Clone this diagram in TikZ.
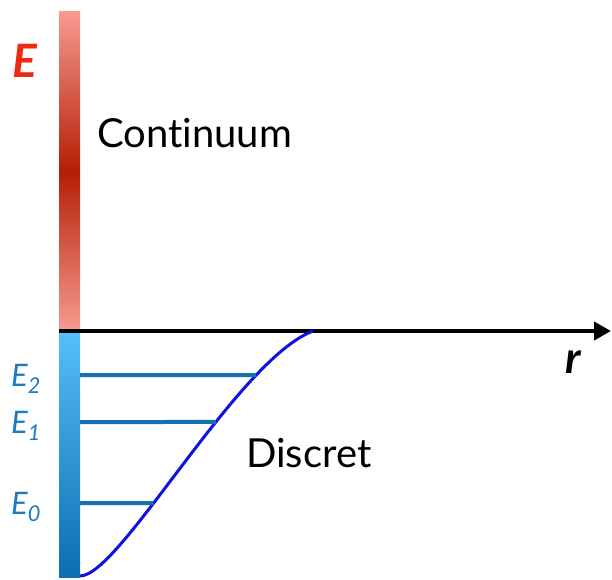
\documentclass[tikz,border=0pt]{standalone}
\usepackage{fontspec}
\setmainfont{Lato}[Ligatures=NoCommon]
\usetikzlibrary{arrows.meta,intersections}
\definecolor{contred}{HTML}{B51E05}
\definecolor{contpink}{HTML}{F79B91}
\definecolor{boundlight}{HTML}{56BEF8}
\definecolor{bounddark}{HTML}{0B6FB0}
\definecolor{levelblue}{HTML}{1470B0}
\definecolor{labelblue}{HTML}{1C7BC2}
\definecolor{energyred}{HTML}{EE2A14}
\definecolor{wellblue}{HTML}{1010E0}

\begin{document}
\begin{tikzpicture}[x=1pt, y=-1pt,
    level/.style={draw=levelblue, line width=4pt},
    levellabel/.style={text=labelblue, font=\fontsize{31}{34}\selectfont\itshape,
                       anchor=base west, inner sep=0pt},
    region/.style={font=\fontsize{40}{44}\selectfont, anchor=base west, inner sep=0pt},
    axislabel/.style={font=\fontsize{44}{48}\selectfont\bfseries\itshape,
                      anchor=base west, inner sep=0pt},
    >=Stealth
]
\useasboundingbox (0,0) rectangle (612,579);

% energy bar
\shade[top color=contpink, bottom color=contpink, middle color=contred] (59,11) rectangle (80,331);
\shade[top color=boundlight, bottom color=bounddark] (59,331) rectangle (80,577);

% r axis
\coordinate (origin) at (59,331);
\coordinate (rend) at (611,331);
\draw[line width=4pt, -{Triangle[length=17pt, width=18pt]}] (origin) -- (rend);

% potential well
\coordinate (bottom) at (80,576);
\coordinate (rim) at (313,331);
\draw[name path=well, draw=wellblue, line width=3pt]
    (bottom) .. controls (120,576) and (237,360) .. (rim);

% bound levels
\foreach \n/\y in {0/503, 1/422, 2/375} {
    \coordinate (b\n) at (80,\y);
    \path[name path=lvl\n] (b\n) -- (330,\y);
    \path[name intersections={of=well and lvl\n, by=w\n}];
    \draw[level] (b\n) -- (w\n);
    \node[levellabel] (e\n) at (11,\y+11) {E\textsubscript{\n}};
}

\node[axislabel, text=energyred, font=\fontsize{46}{50}\selectfont\bfseries\itshape] (elabel) at (12,77) {E};
\node[axislabel] (rlabel) at (565,373) {r};
\node[region] (cont) at (97,147) {Continuum};
\node[region] (disc) at (246,467) {Discret};
\end{tikzpicture}
\end{document}
